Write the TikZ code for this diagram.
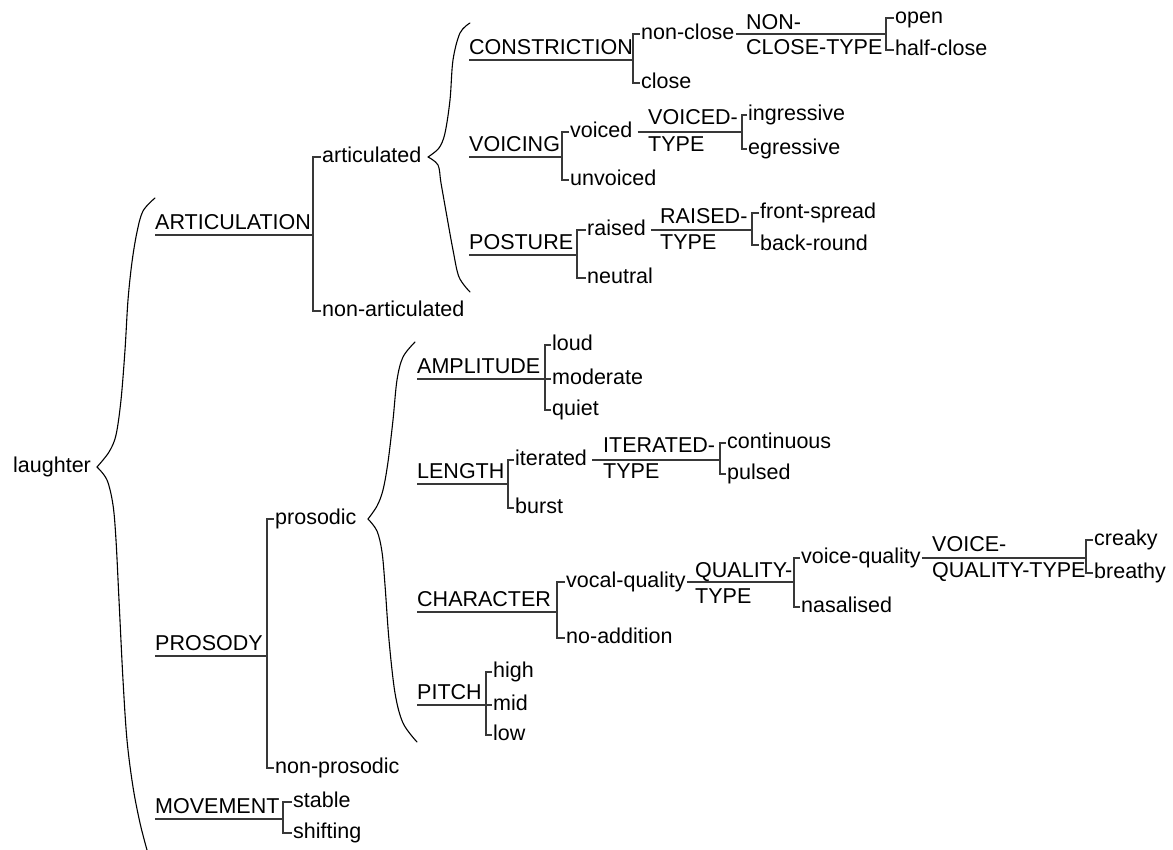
\documentclass[tikz,border=0pt]{standalone}
\usepackage{fontspec}
\setmainfont{Liberation Sans}
% a choice: bar at coordinate #1 running from term #2 to term #3, with ticks
\newcommand{\pick}[3]{\draw[net] (#2.west) -- (#2.west -| #1) -- (#3.west -| #1) -- (#3.west);}
% an extra term hanging from the middle of a bar
\newcommand{\midpick}[2]{\draw[net] (#2.west -| #1) -- (#2.west);}
% entry line under a system name, running to its bar
\newcommand{\entry}[2]{\draw[net] (#2.south west) -- (#2.south west -| #1);}
\begin{document}
\begin{tikzpicture}[x=1pt,y=-1pt,
  every node/.style={font=\fontsize{21.5}{25}\selectfont, text=black},
  term/.style={anchor=west, inner xsep=1pt, inner ysep=0pt, text height=15.5pt, text depth=4.5pt},
  sysname/.style={anchor=south west, inner xsep=0pt, inner ysep=0.5pt, text height=15.5pt, text depth=4.5pt},
  gatelabel/.style={anchor=base west, inner sep=0pt},
  net/.style={draw=black!78, line width=1.2pt},
  bracket/.style={draw=black, line width=1.1pt, line cap=round, line join=round}]
\useasboundingbox (0,0) rectangle (1173,850);

% ---------- root ----------
\node[term] (laughter) at (12,467) {laughter};
\draw[bracket] plot[smooth, tension=0.55] coordinates {(155,198) (143,211) (137,232) (132,262) (128,300) (125,350) (121,400) (116,435) (109,452) (97,467)};
\draw[bracket] plot[smooth, tension=0.55] coordinates {(97,467) (107,480) (113,505) (116,540) (119,600) (123,680) (127,740) (133,787) (140,823) (147,850)};

% ---------- ARTICULATION ----------
\node[sysname] (artic) at (155,235) {ARTICULATION};
\coordinate (bArtic) at (313,0);
\node[term] (articulated) at (321,157) {articulated};
\node[term] (nonartic) at (321,311) {non-articulated};
\entry{bArtic}{artic}
\pick{bArtic}{articulated}{nonartic}

\draw[bracket] plot[smooth, tension=0.55] coordinates {(470,23) (460,33) (453,60) (450,100) (445,133) (439,148) (428,157)};
\draw[bracket] plot[smooth, tension=0.55] coordinates {(428,157) (438,165) (441,183) (447,217) (453,250) (459,277) (470,292)};

% CONSTRICTION
\node[sysname] (constr) at (469,60) {CONSTRICTION};
\coordinate (bConstr) at (633,0);
\node[term] (nonclose) at (640,34) {non-close};
\node[term] (close) at (640,83) {close};
\entry{bConstr}{constr}
\pick{bConstr}{nonclose}{close}
\node[gatelabel] (ncA) at (746,30) {NON-};
\node[gatelabel] (ncB) at (746,55) {CLOSE-TYPE};
\coordinate (gNonclose) at (886,0);
\node[term] (open) at (894,18) {open};
\node[term] (halfclose) at (894,50) {half-close};
\draw[net] (nonclose.east) -- (nonclose.east -| gNonclose);
\pick{gNonclose}{open}{halfclose}

% VOICING
\node[sysname] (voicing) at (469,157) {VOICING};
\coordinate (bVoicing) at (562,0);
\node[term] (voiced) at (569,132) {voiced};
\node[term] (unvoiced) at (569,180) {unvoiced};
\entry{bVoicing}{voicing}
\pick{bVoicing}{voiced}{unvoiced}
\node[gatelabel] (vtA) at (648,125) {VOICED-};
\node[gatelabel] (vtB) at (648,152) {TYPE};
\coordinate (gVoiced) at (742,0);
\node[term] (ingressive) at (747,115) {ingressive};
\node[term] (egressive) at (747,149) {egressive};
\draw[net] ([xshift=4pt]voiced.east) -- (voiced.east -| gVoiced);
\pick{gVoiced}{ingressive}{egressive}

% POSTURE
\node[sysname] (posture) at (469,255) {POSTURE};
\coordinate (bPosture) at (577,0);
\node[term] (raised) at (586,230) {raised};
\node[term] (neutral) at (586,278) {neutral};
\entry{bPosture}{posture}
\pick{bPosture}{raised}{neutral}
\node[gatelabel] (rtA) at (660,224) {RAISED-};
\node[gatelabel] (rtB) at (660,250) {TYPE};
\coordinate (gRaised) at (752,0);
\node[term] (frontspread) at (759,213) {front-spread};
\node[term] (backround) at (759,245) {back-round};
\draw[net] ([xshift=4pt]raised.east) -- (raised.east -| gRaised);
\pick{gRaised}{frontspread}{backround}

% ---------- PROSODY ----------
\node[sysname] (prosody) at (155,656) {PROSODY};
\coordinate (bPros) at (267,0);
\node[term] (prosodic) at (274,519) {prosodic};
\node[term] (nonpros) at (274,768) {non-prosodic};
\entry{bPros}{prosody}
\pick{bPros}{prosodic}{nonpros}

\draw[bracket] plot[smooth, tension=0.55] coordinates {(415,342) (403,357) (397,380) (393,420) (388,462) (383,490) (377,506) (368,519)};
\draw[bracket] plot[smooth, tension=0.55] coordinates {(368,519) (377,531) (382,552) (385,585) (389,640) (395,693) (403,723) (417,742)};

% AMPLITUDE
\node[sysname] (amplitude) at (417,379) {AMPLITUDE};
\coordinate (bAmp) at (545,0);
\node[term] (loud) at (551,345) {loud};
\node[term] (moderate) at (551,379) {moderate};
\node[term] (quiet) at (551,410) {quiet};
\entry{bAmp}{amplitude}
\pick{bAmp}{loud}{quiet}
\midpick{bAmp}{moderate}

% LENGTH
\node[sysname] (length) at (417,484) {LENGTH};
\coordinate (bLength) at (508,0);
\node[term] (iterated) at (514,460) {iterated};
\node[term] (burst) at (514,508) {burst};
\entry{bLength}{length}
\pick{bLength}{iterated}{burst}
\node[gatelabel] (itA) at (603,452) {ITERATED-};
\node[gatelabel] (itB) at (603,478) {TYPE};
\coordinate (gIterated) at (720,0);
\node[term] (continuous) at (726,443) {continuous};
\node[term] (pulsed) at (726,474) {pulsed};
\draw[net] ([xshift=4pt]iterated.east) -- (iterated.east -| gIterated);
\pick{gIterated}{continuous}{pulsed}

% CHARACTER
\node[sysname] (character) at (417,612) {CHARACTER};
\coordinate (bChar) at (557,0);
\node[term] (vocalq) at (565,582) {vocal-quality};
\node[term] (noadd) at (565,638) {no-addition};
\entry{bChar}{character}
\pick{bChar}{vocalq}{noadd}
\node[gatelabel] (qtA) at (695,577) {QUALITY-};
\node[gatelabel] (qtB) at (695,603) {TYPE};
\coordinate (gQuality) at (794,0);
\node[term] (voiceq) at (800,558) {voice-quality};
\node[term] (nasalised) at (800,607) {nasalised};
\draw[net] (vocalq.east) -- (vocalq.east -| gQuality);
\pick{gQuality}{voiceq}{nasalised}
\node[gatelabel] (vqA) at (932,551) {VOICE-};
\node[gatelabel] (vqB) at (932,577) {QUALITY-TYPE};
\coordinate (gVoiceq) at (1086,0);
\node[term] (creaky) at (1093,540) {creaky};
\node[term] (breathy) at (1093,573) {breathy};
\draw[net] (voiceq.east) -- (voiceq.east -| gVoiceq);
\pick{gVoiceq}{creaky}{breathy}

% PITCH
\node[sysname] (pitch) at (417,705) {PITCH};
\coordinate (bPitch) at (486,0);
\node[term] (high) at (492,672) {high};
\node[term] (midp) at (492,705) {mid};
\node[term] (low) at (492,735) {low};
\entry{bPitch}{pitch}
\pick{bPitch}{high}{low}
\midpick{bPitch}{midp}

% ---------- MOVEMENT ----------
\node[sysname] (movement) at (155,819) {MOVEMENT};
\coordinate (bMove) at (283,0);
\node[term] (stable) at (292,802) {stable};
\node[term] (shifting) at (292,833) {shifting};
\entry{bMove}{movement}
\pick{bMove}{stable}{shifting}
\end{tikzpicture}
\end{document}
